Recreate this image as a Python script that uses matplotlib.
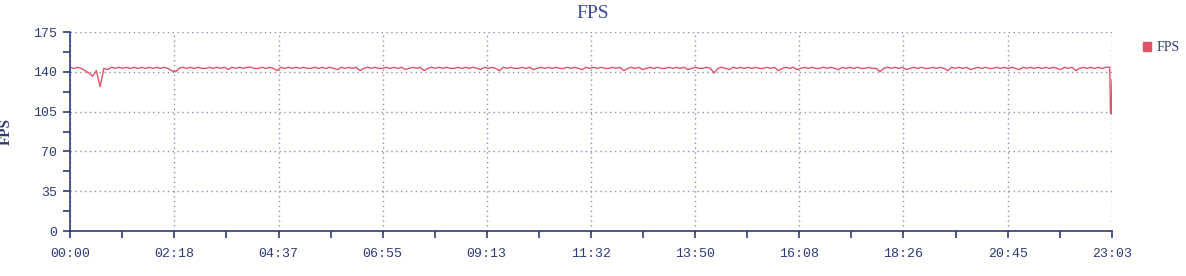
import numpy as np
import matplotlib
matplotlib.use("Agg")
import matplotlib.pyplot as plt
from matplotlib.patches import Patch
from matplotlib.ticker import MultipleLocator

# FPS samples, one every 5 minutes from 00:00
fps = [
    144, 143, 144, 143, 141, 139, 136, 141, 127, 143, 142, 144, 143, 144, 143, 144, 143, 144, 143, 144,
    143, 144, 143, 144, 143, 144, 143, 141, 140, 143, 144, 143, 144, 143, 144, 143, 143, 144, 143, 144,
    143, 144, 142, 144, 143, 144, 143, 144, 144, 143, 143, 144, 143, 144, 143, 141, 144, 143, 144, 143,
    144, 143, 144, 143, 143, 144, 143, 144, 143, 144, 143, 142, 144, 143, 144, 143, 144, 141, 143, 144,
    143, 144, 143, 143, 144, 143, 144, 143, 144, 142, 143, 144, 143, 144, 141, 143, 144, 143, 144, 143,
    144, 143, 143, 144, 143, 144, 143, 144, 143, 142, 144, 143, 144, 143, 141, 144, 143, 144, 143, 143,
    144, 143, 144, 142, 143, 144, 143, 144, 143, 144, 143, 143, 144, 143, 144, 143, 142, 144, 143, 144,
    143, 144, 143, 143, 144, 143, 144, 141, 143, 144, 143, 144, 142, 143, 144, 143, 144, 143, 143, 144,
    143, 144, 143, 144, 142, 143, 144, 143, 143, 144, 143, 139, 143, 144, 143, 142, 144, 143, 144, 143,
    144, 143, 144, 143, 143, 144, 143, 144, 141, 143, 144, 143, 144, 142, 143, 144, 143, 144, 143, 143,
    144, 143, 144, 143, 142, 144, 143, 144, 143, 144, 143, 143, 144, 143, 143, 140, 143, 144, 143, 144,
    143, 144, 142, 143, 144, 143, 144, 143, 143, 144, 143, 144, 143, 141, 144, 143, 144, 143, 144, 142,
    143, 144, 143, 144, 143, 143, 144, 143, 144, 143, 144, 143, 142, 144, 143, 144, 143, 144, 143, 144,
    143, 144, 143, 142, 144, 143, 144, 141, 143, 144, 143, 144, 143, 144, 143, 144,
]
minutes = list(range(0, 5 * len(fps), 5))

# last few minutes, sampled finer (the big drop at the end)
tail_minutes = [1378, 1380, 1381, 1382, 1383]
tail_fps = [144, 144, 104, 103, 133]

x_ticks = [0, 138, 277, 415, 553, 692, 830, 968, 1106, 1245, 1383]
x_labels = ["00:00", "02:18", "04:37", "06:55", "09:13", "11:32",
            "13:50", "16:08", "18:26", "20:45", "23:03"]

NAVY = "#2e3b78"
RED = "#e05466"
GRID = "#8a8fb0"

fig = plt.figure(figsize=(11.86, 2.76), dpi=100)
ax = fig.add_axes([0.059, 0.163, 0.8786, 0.721])

ax.plot(minutes + tail_minutes, fps + tail_fps, color=RED, lw=1.0)

ax.set_xlim(0, 1383)
ax.set_ylim(0, 175)
ax.yaxis.set_major_locator(MultipleLocator(35))
ax.yaxis.set_minor_locator(MultipleLocator(17.5))
ax.set_xticks(x_ticks)
ax.set_xticklabels(x_labels)
ax.set_xticks([(a + b) / 2 for a, b in zip(x_ticks[:-1], x_ticks[1:])], minor=True)

for s in ("top", "right"):
    ax.spines[s].set_visible(False)
for s in ("left", "bottom"):
    ax.spines[s].set_color(NAVY)
    ax.spines[s].set_linewidth(1.2)

ax.tick_params(which="both", colors=NAVY, length=5, width=1.2, direction="out")
ax.tick_params(axis="y", labelsize=9.5, pad=4)
ax.tick_params(axis="x", labelsize=9.5, pad=7)
for lbl in ax.get_xticklabels() + ax.get_yticklabels():
    lbl.set_family("Liberation Mono")
    lbl.set_color(NAVY)

ax.grid(True, which="major", ls=(0, (1, 2.5)), color=GRID, lw=1.0)
ax.set_axisbelow(True)

fig.text(0.5, 0.952, "FPS", ha="center", va="center", fontsize=14,
         family="Liberation Serif", color="#3a4a9a")
ax.set_ylabel("FPS", fontsize=11, family="Liberation Serif", fontweight="bold",
              color=NAVY)
ax.yaxis.set_label_coords(-0.055, 0.5)

fig.legend(handles=[Patch(color=RED, label="FPS")], loc="upper left",
           bbox_to_anchor=(0.953, 0.895), frameon=False, handlelength=0.6,
           handleheight=0.6, handletextpad=0.4,
           prop={"family": "Liberation Serif", "size": 10}, labelcolor=NAVY)

fig.savefig("out.png", dpi=100)
